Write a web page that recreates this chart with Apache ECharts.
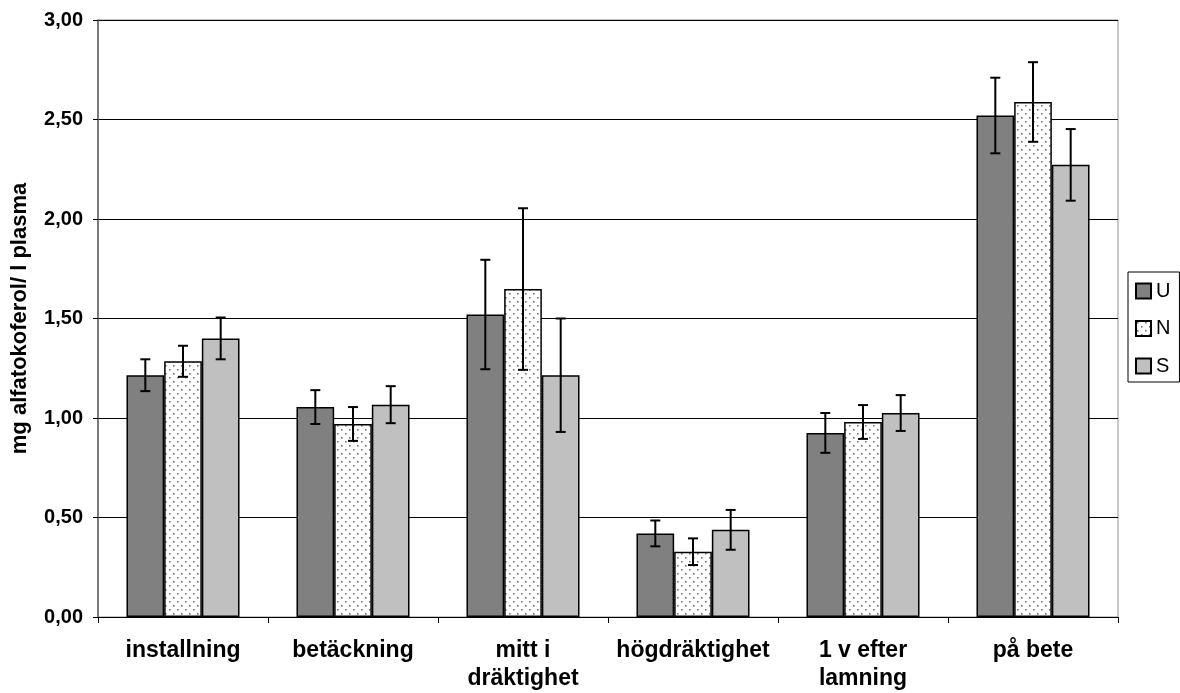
<!DOCTYPE html>
<html><head><meta charset="utf-8">
<script src="https://cdn.jsdelivr.net/npm/echarts@6/dist/echarts.min.js"></script>
<style>html,body{margin:0;padding:0;background:#fff}#c{width:1180px;height:693px}</style>
</head><body><div id="c"></div>
<script>
const categories = ['installning', 'betäckning', 'mitt i\ndräktighet', 'högdräktighet', '1 v efter\nlamning', 'på bete'];
const seriesNames = ['U', 'N', 'S'];
const valuesU = [1.215, 1.055, 1.52, 0.42, 0.925, 2.52];
const valuesN = [1.285, 0.97, 1.648, 0.328, 0.98, 2.588];
const valuesS = [1.40, 1.067, 1.215, 0.438, 1.025, 2.272];
const errU = [0.08, 0.085, 0.275, 0.065, 0.10, 0.19];
const errN = [0.078, 0.085, 0.406, 0.067, 0.085, 0.20];
const errS = [0.105, 0.093, 0.285, 0.10, 0.09, 0.18];
const yTicks = ['0,00','0,50','1,00','1,50','2,00','2,50','3,00'];

const values = [valuesU, valuesN, valuesS];
const errs = [errU, errN, errS];

// dotted pattern for N
const pc = document.createElement('canvas');
pc.width = 8; pc.height = 8;
const pctx = pc.getContext('2d');
pctx.fillStyle = '#ffffff'; pctx.fillRect(0,0,8,8);
pctx.fillStyle = '#777777';
pctx.fillRect(1,1,1.6,1.6);
pctx.fillRect(5,5,1.6,1.6);

const fills = ['#808080', {image: pc, repeat: 'repeat'}, '#c0c0c0'];
const GAP = 0.335;

const series = [];
seriesNames.forEach((n, i) => {
  series.push({
    name: n, type: 'bar', data: values[i],
    barGap: '0%', barCategoryGap: (GAP*100)+'%',
    itemStyle: {color: fills[i], borderColor: '#000', borderWidth: 1.5},
    emphasis: {disabled: true}, animation: false
  });
});
seriesNames.forEach((n, i) => {
  series.push({
    name: n + '_err', type: 'custom', animation: false, z: 5,
    data: values[i].map((v, k) => [k, v - errs[i][k], v + errs[i][k]]),
    renderItem: function (params, api) {
      const k = api.value(0);
      const lo = api.coord([k, api.value(1)]);
      const hi = api.coord([k, api.value(2)]);
      const band = api.size([1, 0])[0];
      const bw = band * (1 - GAP) / 3;
      const x = lo[0] + (i - 1) * bw;
      const cap = 5;
      const st = {stroke: '#000', lineWidth: 2};
      return {type: 'group', children: [
        {type: 'line', shape: {x1: x, y1: lo[1], x2: x, y2: hi[1]}, style: st},
        {type: 'line', shape: {x1: x - cap, y1: lo[1], x2: x + cap, y2: lo[1]}, style: st},
        {type: 'line', shape: {x1: x - cap, y1: hi[1], x2: x + cap, y2: hi[1]}, style: st}
      ]};
    }
  });
});

const chart = echarts.init(document.getElementById('c'));
chart.setOption({
  backgroundColor: '#fff',
  animation: false,
  textStyle: {fontFamily: 'Liberation Sans, Arial, sans-serif'},
  grid: {left: 98, right: 62, top: 20, bottom: 73, show: true, borderColor: '#909090', borderWidth: 1},
  legend: {
    data: seriesNames, orient: 'vertical', left: 1128, top: 272,
    itemWidth: 15, itemHeight: 15, itemGap: 17.5,
    borderColor: '#000', borderWidth: 1, padding: [9, 9, 6, 7],
    textStyle: {fontSize: 20, color: '#000', lineHeight: 15},
    icon: 'rect', selectedMode: false
  },
  xAxis: {
    type: 'category', data: categories,
    axisLine: {lineStyle: {color: '#000', width: 1}},
    axisTick: {show: true, alignWithLabel: false, length: 6, lineStyle: {color: '#000'}},
    axisLabel: {fontSize: 23, fontWeight: 'bold', color: '#000', lineHeight: 28, margin: 20, interval: 0}
  },
  yAxis: {
    type: 'value', min: 0, max: 3, interval: 0.5,
    name: 'mg alfatokoferol/ l plasma', nameLocation: 'middle', nameGap: 67,
    nameTextStyle: {fontSize: 22, fontWeight: 'bold', color: '#000'},
    axisLine: {show: true, lineStyle: {color: '#606060', width: 1.5}},
    axisTick: {show: true, length: 5, lineStyle: {color: '#000'}},
    splitLine: {lineStyle: {color: '#000', width: 1}},
    axisLabel: {fontSize: 20, fontWeight: 'bold', color: '#000', margin: 15,
      formatter: function (v) { return yTicks[Math.round(v / 0.5)]; }}
  },
  series: series
});
</script></body></html>
